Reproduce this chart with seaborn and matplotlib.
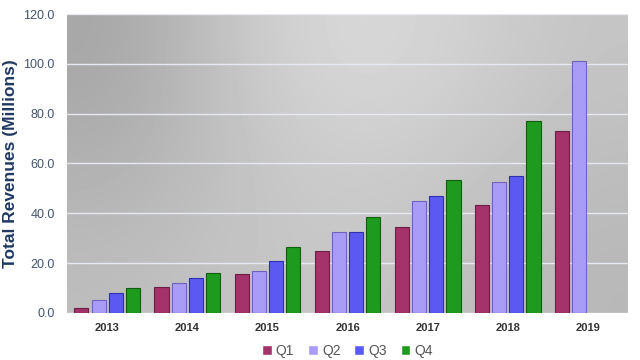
import numpy as np
import pandas as pd
import matplotlib
matplotlib.use('Agg')
import matplotlib.pyplot as plt
import seaborn as sns

# ====== DATA

years = ['2013', '2014', '2015', '2016', '2017', '2018', '2019']
quarters = ['Q1', 'Q2', 'Q3', 'Q4']

q1 = [2.0, 10.5, 15.5, 25.0, 34.5, 43.5, 73.0]
q2 = [5.0, 12.0, 17.0, 32.5, 45.0, 52.5, 101.0]
q3 = [8.0, 14.0, 21.0, 32.5, 47.0, 55.0, np.nan]
q4 = [10.0, 16.0, 26.5, 38.5, 53.5, 77.0, np.nan]

colors = ['#a3336a', '#a99cf6', '#5a5af2', '#1e9a1e']
edges = ['#6e1e45', '#6f63c0', '#2f2fb0', '#0f5f0f']

y_ticks = [0, 20, 40, 60, 80, 100, 120]

df = pd.DataFrame({'year': years, 'Q1': q1, 'Q2': q2, 'Q3': q3, 'Q4': q4})
df = df.melt(id_vars='year', var_name='quarter', value_name='revenue').dropna()

# ====== PLOT

sns.set_style('white')
plt.rcParams['font.family'] = ['Liberation Sans', 'DejaVu Sans']

fig = plt.figure(figsize=(6.4, 3.6), dpi=100)
ax = fig.add_axes([0.105, 0.131, 0.876, 0.830])

# gray gradient background: dark left edge, light top centre
shade = np.array([[0.74, 0.77, 0.78, 0.75, 0.72],
                  [0.69, 0.76, 0.81, 0.78, 0.74],
                  [0.65, 0.78, 0.86, 0.82, 0.77]])
ax.imshow(shade, cmap='gray', vmin=0, vmax=1, extent=[0, 1, 0, 1], origin='lower',
          interpolation='bicubic', transform=ax.transAxes, aspect='auto', zorder=0)

sns.barplot(data=df, x='year', y='revenue', hue='quarter', hue_order=quarters,
            order=years, palette=colors, width=0.86, gap=0.18, ax=ax,
            saturation=1, zorder=3, legend=True)

# darker outline per quarter
for cont, ec in zip(ax.containers, edges):
    for bar in cont:
        bar.set_edgecolor(ec)
        bar.set_linewidth(0.8)

ax.set_ylim(0, 120)
ax.set_xlim(-0.5, 6.5)
ax.set_yticks(y_ticks)
ax.set_yticklabels([f'{v:.1f}' for v in y_ticks])
ax.yaxis.grid(True, color='#e6eaf0', linewidth=1.0, zorder=1)
ax.set_axisbelow(True)
for s in ax.spines.values():
    s.set_visible(False)

ax.tick_params(axis='y', length=0, pad=9, labelsize=9, labelcolor='#44546a')
ax.tick_params(axis='x', length=0, pad=7, labelsize=8)
for lbl in ax.get_xticklabels():
    lbl.set_fontweight('bold')
    lbl.set_color('#333333')

ax.set_xlabel('')
ax.set_ylabel('Total Revenues (Millions)', fontsize=12.5, fontweight='bold', color='#1f3864')
ax.yaxis.set_label_coords(-0.088, 0.5)

ax.legend(loc='center', bbox_to_anchor=(0.5, -0.128), ncol=4,
          frameon=False, fontsize=10, handlelength=0.7, handleheight=0.7,
          handletextpad=0.3, columnspacing=1.0, labelcolor='#555555')

fig.savefig('out.png', dpi=100)
plt.close()
